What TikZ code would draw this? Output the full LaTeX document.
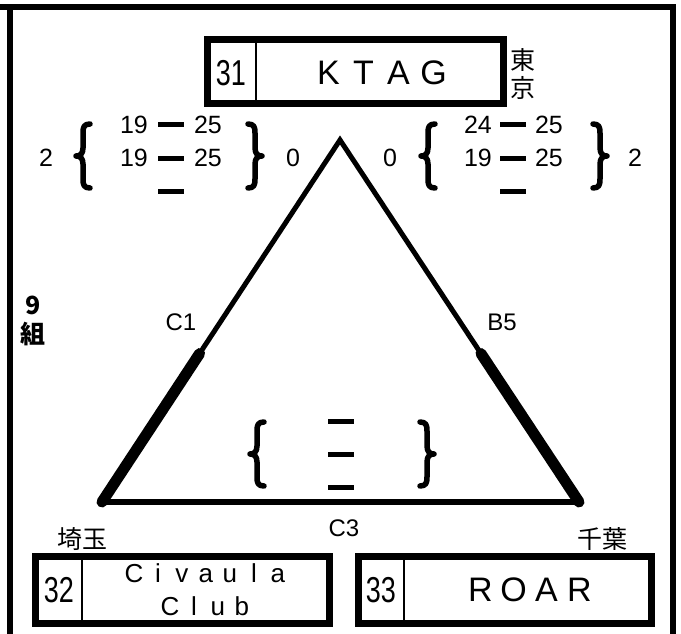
\documentclass[tikz,border=0pt]{standalone}
\usepackage{fontspec}
\setmainfont{Liberation Sans}
\newfontfamily\jp{Noto Sans CJK JP}
\usetikzlibrary{calc}
\newcommand\lspA[1]{\makebox[35pt]{#1}}
\newcommand\lspB[1]{\makebox[24pt]{#1}}
\newcommand\lspC[1]{\makebox[33pt]{#1}}
\tikzset{
  brc/.style={line width=5.5pt, line cap=round, line join=round},
  lbrace/.pic={\draw[brc] (7,-32) .. controls (1,-32) and (0,-29) .. (0,-23) -- (0,-8) .. controls (0,-2) and (-3,0) .. (-7,0) .. controls (-3,0) and (0,2) .. (0,8) -- (0,23) .. controls (0,29) and (1,32) .. (7,32);},
  rbrace/.pic={\draw[brc] (-7,-32) .. controls (-1,-32) and (0,-29) .. (0,-23) -- (0,-8) .. controls (0,-2) and (3,0) .. (7,0) .. controls (3,0) and (0,2) .. (0,8) -- (0,23) .. controls (0,29) and (-1,32) .. (-7,32);}
}
\begin{document}
\begin{tikzpicture}[x=1pt,y=-1pt,
  frame/.style={line width=6pt},
  box/.style={line width=7pt},
  div/.style={line width=2.5pt},
  edge/.style={line width=5pt, line cap=round, line join=miter},
  bottomedge/.style={line width=6pt, line cap=round},
  thickedge/.style={line width=11pt, line cap=round},
  dashbar/.style={line width=5pt},
  score/.style={font=\fontsize{25}{25}\selectfont, inner sep=0pt},
  lbl/.style={font=\fontsize{24}{24}\selectfont, inner sep=0pt},
  jplbl/.style={font=\jp\fontsize{25}{25}\selectfont, inner sep=0pt},
  grp/.style={font=\jp\bfseries\fontsize{25}{25}\selectfont, inner sep=0pt},
  seed/.style={font=\fontsize{36}{36}\selectfont, inner sep=0pt},
  team/.style={font=\fontsize{34}{34}\selectfont, inner sep=0pt},
  teamsm/.style={font=\fontsize{26}{26}\selectfont, inner sep=0pt}
]
\useasboundingbox (0,0) rectangle (681,634);
% outer frame
\coordinate (ftl) at (0,7.5);
\coordinate (ftr) at (675.5,7.5);
\coordinate (fl1) at (10,10);
\coordinate (fl2) at (10,634);
\coordinate (fr1) at (672.5,10);
\coordinate (fr2) at (672.5,634);
\draw[frame] (ftl) -- (ftr);
\draw[frame] (fl1) -- (fl2);
\draw[frame] (fr1) -- (fr2);

% KTAG box
\draw[box] (207,40) rectangle (503,104);
\draw[div] (256,40) -- (256,104);
\node[seed] (s31) at (231,73) {\scalebox{0.75}[1]{31}};
\node[team] (ktag) at (381,73) {\lspA{K}\lspA{T}\lspA{A}\lspA{G}};
\node[jplbl] (to) at (523,60) {東};
\node[jplbl] (kyo) at (523,88) {京};

% left score block
\node[score] (l2) at (46,158) {2};
\pic at (83,156) {lbrace};
\node[score] (la1) at (134,125) {19};
\node[score] (lb1) at (208,125) {25};
\node[score] (la2) at (134,158) {19};
\node[score] (lb2) at (208,158) {25};
\draw[dashbar] (158,125) -- (184,125);
\draw[dashbar] (158,158) -- (184,158);
\draw[dashbar] (158,191) -- (184,191);
\pic at (255,156) {rbrace};
\node[score] (l0) at (293,158) {0};

% right score block
\node[score] (r0) at (390,158) {0};
\pic at (428,156) {lbrace};
\node[score] (ra1) at (478,125) {24};
\node[score] (rb1) at (549,125) {25};
\node[score] (ra2) at (478,158) {19};
\node[score] (rb2) at (549,158) {25};
\draw[dashbar] (500,125) -- (526,125);
\draw[dashbar] (500,158) -- (526,158);
\draw[dashbar] (500,191) -- (526,191);
\pic at (600,156) {rbrace};
\node[score] (r2) at (635,158) {2};

% triangle
\coordinate (A) at (340,140);
\coordinate (L) at (102,502);
\coordinate (R) at (579,502);
\draw[edge] (L) -- (A) -- (R);
\draw[bottomedge] (L) -- (R);
\draw[thickedge] (L) -- ($(L)!0.41!(A)$);
\draw[thickedge] (R) -- ($(R)!0.41!(A)$);
\node[lbl] (c1) at (181,322) {C1};
\node[lbl] (b5) at (502,322) {B5};
\node[lbl] (c3) at (344,528) {C3};

% inner bracket
\pic at (257,454) {lbrace};
\draw[dashbar] (328,421) -- (354,421);
\draw[dashbar] (328,454) -- (354,454);
\draw[dashbar] (328,487) -- (354,487);
\pic at (427,454) {rbrace};

% group label
\node[grp] (g9) at (33,305) {9};
\node[grp] (gk) at (33,334) {組};

% prefecture labels
\node[jplbl] (sai) at (82,539) {埼玉};
\node[jplbl] (chi) at (602,539) {千葉};

% bottom boxes
\draw[box] (35,556) rectangle (329,623);
\draw[div] (82,556) -- (82,623);
\node[seed] (s32) at (59,590) {\scalebox{0.75}[1]{32}};
\node[teamsm] (civ) at (206,573) {\lspB{C}\lspB{i}\lspB{v}\lspB{a}\lspB{u}\lspB{l}\lspB{a}};
\node[teamsm] (club) at (206,606) {\lspB{C}\lspB{l}\lspB{u}\lspB{b}};
\draw[box] (358,556) rectangle (651,623);
\draw[div] (404,556) -- (404,623);
\node[seed] (s33) at (381,590) {\scalebox{0.75}[1]{33}};
\node[team] (roar) at (530,590) {\lspC{R}\lspC{O}\lspC{A}\lspC{R}};
\end{tikzpicture}
\end{document}
